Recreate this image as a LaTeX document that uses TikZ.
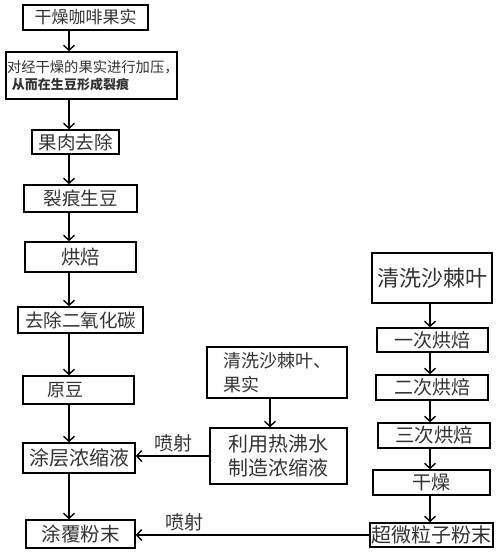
\documentclass[tikz,border=0pt]{standalone}
\usepackage{fontspec}
\setmainfont{Noto Sans CJK SC}
\usetikzlibrary{arrows.meta}
\newcommand{\fsz}[1]{\fontsize{#1}{#1}\selectfont}

\begin{document}
\begin{tikzpicture}[x=1pt, y=-1pt,
  box/.style={draw, line width=1.6pt, inner sep=0pt, text=black!80},
  flow/.style={line width=1.4pt, -{Straight Barb[length=5pt,width=11pt]}}]
  \useasboundingbox (0,0) rectangle (500,556);
  % left column
  \coordinate (spine) at (69,0);
  \node[box, minimum width=125, minimum height=25, font=\fsz{17}] (fruit) at (85.5,17.5) {干燥咖啡果实};
  \node[box, minimum height=47, inner xsep=1pt, text width=169pt, align=left, font=\fsz{14.3}] (press) at (91.5,75.5)
    {对经干燥的果实进行加压，\\[3pt] \hspace*{5pt}{\fsz{13}\bfseries 从而在生豆形成裂痕}};
  \node[box, minimum width=87, minimum height=24, font=\fsz{18.5}] (pulp) at (75.5,142) {果肉去除};
  \node[box, minimum width=113, minimum height=27, font=\fsz{18.5}] (green) at (80.5,198.5) {裂痕生豆};
  \node[box, minimum width=111, minimum height=30, font=\fsz{19.5}] (roast) at (80.5,257) {烘焙};
  \node[box, minimum width=125, minimum height=26, font=\fsz{18.5}] (decarb) at (80.5,320) {去除二氧化碳};
  \node[box, minimum height=28, inner xsep=24pt, text width=63pt, align=left, font=\fsz{18}] (bean) at (78.5,390) {原豆};
  \node[box, minimum width=112, minimum height=30, font=\fsz{20}] (coat) at (79,458) {涂层浓缩液};
  \node[box, minimum width=109, minimum height=28, font=\fsz{19.5}] (powder) at (80.5,534) {涂覆粉末};
  \draw[flow] (fruit.south -| spine) -- (press.north -| spine);
  \draw[flow] (press.south -| spine) -- (pulp.north -| spine);
  \draw[flow] (pulp.south -| spine) -- (green.north -| spine);
  \draw[flow] (green.south -| spine) -- (roast.north -| spine);
  \draw[flow] (roast.south -| spine) -- (decarb.north -| spine);
  \draw[flow] (decarb.south -| spine) -- (bean.north -| spine);
  \draw[flow] (bean.south -| spine) -- (coat.north -| spine);
  \draw[flow] (coat.south -| spine) -- (powder.north -| spine);
  % middle column
  \coordinate (mspine) at (270,0);
  \node[box, minimum height=51, inner xsep=16pt, text width=108pt, align=left, font=\fsz{18}] (wash) at (277,372.5)
    {清洗沙棘叶、\\[6pt]果实};
  \node[box, minimum width=137, minimum height=56, align=center, font=\fsz{20}] (boil) at (278.5,456)
    {利用热沸水\\[4pt]制造浓缩液};
  \draw[flow] (wash.south -| mspine) -- (boil.north -| mspine);
  \draw[flow] (boil.west) -- (boil.west -| coat.east) node[pos=0.48, above, font=\fsz{19}, text=black!80] {喷射};
  % right column
  \coordinate (rspine) at (430,0);
  \node[box, minimum width=120, minimum height=50, font=\fsz{22}] (leaf) at (432,278) {清洗沙棘叶};
  \node[box, minimum width=111, minimum height=24, font=\fsz{19}] (first) at (432.5,340) {一次烘焙};
  \node[box, minimum width=112, minimum height=25, font=\fsz{19}] (second) at (432,387.5) {二次烘焙};
  \node[box, minimum width=112, minimum height=25, font=\fsz{19.5}] (third) at (434,435.5) {三次烘焙};
  \node[box, minimum width=117, minimum height=25, font=\fsz{19}] (drying) at (431.5,482.5) {干燥};
  \node[box, minimum width=123, minimum height=24, font=\fsz{20}] (fine) at (431.5,535) {超微粒子粉末};
  \draw[flow] (leaf.south -| rspine) -- (first.north -| rspine);
  \draw[flow] (first.south -| rspine) -- (second.north -| rspine);
  \draw[flow] (second.south -| rspine) -- (third.north -| rspine);
  \draw[flow] (third.south -| rspine) -- (drying.north -| rspine);
  \draw[flow] (drying.south -| rspine) -- (fine.north -| rspine);
  \draw[flow] (fine.west) -- (fine.west -| powder.east) node[pos=0.79, above, font=\fsz{19}, text=black!80] {喷射};
\end{tikzpicture}
\end{document}
